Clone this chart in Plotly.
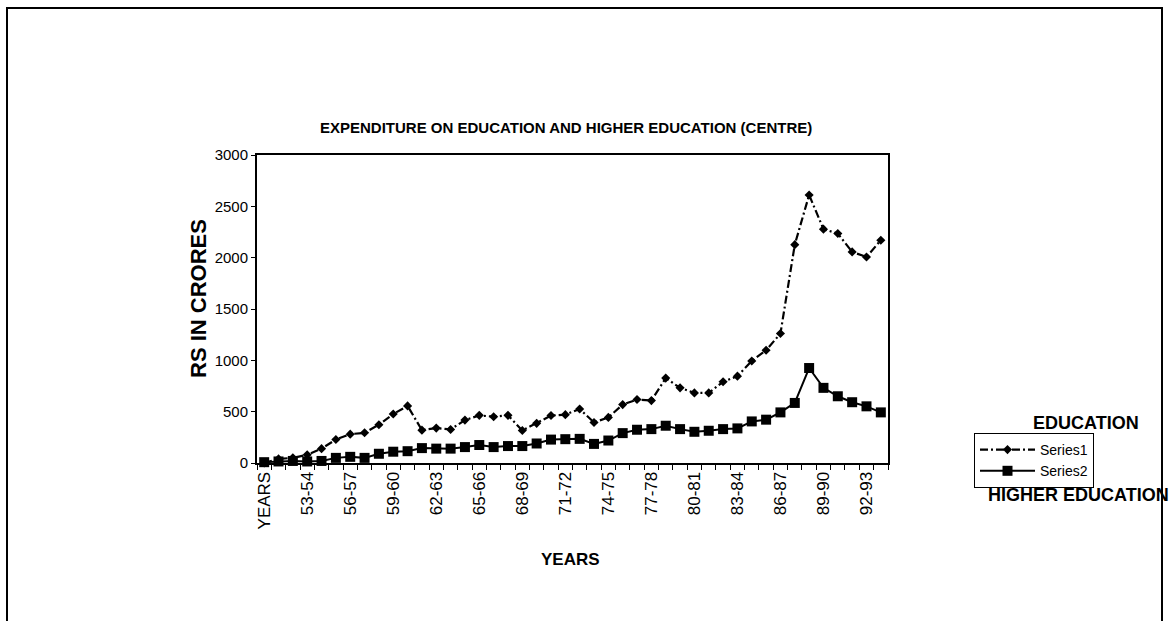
import plotly.graph_objects as go

years = ["YEARS", "51-52", "52-53", "53-54", "54-55", "55-56", "56-57", "57-58", "58-59",
         "59-60", "60-61", "61-62", "62-63", "63-64", "64-65", "65-66", "66-67", "67-68",
         "68-69", "69-70", "70-71", "71-72", "72-73", "73-74", "74-75", "75-76", "76-77",
         "77-78", "78-79", "79-80", "80-81", "81-82", "82-83", "83-84", "84-85", "85-86",
         "86-87", "87-88", "88-89", "89-90", "90-91", "91-92", "92-93", "93-94"]

series1 = [0, 40, 50, 80, 140, 229, 281, 294, 373, 477, 556, 320, 340, 327, 418, 464,
           451, 464, 317, 386, 462, 471, 526, 395, 444, 569, 618, 608, 827, 732, 683,
           683, 791, 846, 994, 1098, 1261, 2127, 2611, 2278, 2235, 2056, 2007, 2170]

series2 = [8, 15, 20, 15, 20, 50, 60, 50, 90, 110, 115, 145, 140, 140, 155, 175,
           155, 165, 165, 190, 228, 232, 235, 186, 219, 291, 324, 330, 363, 330, 304,
           314, 330, 337, 405, 422, 493, 585, 925, 732, 650, 592, 552, 493]

tick_labels = ["YEARS", "53-54", "56-57", "59-60", "62-63", "65-66", "68-69", "71-72",
               "74-75", "77-78", "80-81", "83-84", "86-87", "89-90", "92-93"]

y_ticks = [0, 500, 1000, 1500, 2000, 2500, 3000]

FONT = "Liberation Sans, Arial, sans-serif"

fig = go.Figure()
fig.add_trace(go.Scatter(
    x=years, y=series1, name="Series1", mode="lines+markers",
    line=dict(color="black", width=2.2, dash="8px,3px,2px,3px"),
    marker=dict(symbol="diamond", size=7, color="black"),
    cliponaxis=False,
))
fig.add_trace(go.Scatter(
    x=years, y=series2, name="Series2", mode="lines+markers",
    line=dict(color="black", width=2),
    marker=dict(symbol="square", size=10, color="black"),
    cliponaxis=False,
))

L, R, T, B = 257, 888, 155, 463
W, H = 1174, 621


def px(x):
    return (x - L) / (R - L)


def py(y):
    return (B - y) / (B - T)


fig.update_layout(
    width=W, height=H,
    margin=dict(l=L, r=W - R, t=T, b=H - B, pad=0),
    paper_bgcolor="white", plot_bgcolor="white",
    font=dict(family=FONT, color="black"),
    showlegend=True,
    legend=dict(
        x=px(974), y=py(433), xanchor="left", yanchor="top",
        bordercolor="black", borderwidth=1, bgcolor="white",
        font=dict(size=14, family=FONT, color="black"),
        itemwidth=55, tracegroupgap=0,
    ),
)

fig.update_xaxes(
    type="category",
    range=[-0.5, len(years) - 0.5],
    tickmode="array",
    tickvals=years,
    ticktext=[y if y in tick_labels else "" for y in years],
    tickangle=-90,
    tickson="boundaries",
    ticks="outside", ticklen=5, tickwidth=1, tickcolor="black",
    tickfont=dict(size=17, family=FONT, color="black"),
    showline=True, linecolor="black", linewidth=2, mirror=True,
    showgrid=False, zeroline=False,
)
fig.update_yaxes(
    range=[0, 3000],
    tickmode="array", tickvals=y_ticks,
    ticks="outside", ticklen=4, tickwidth=1, tickcolor="black",
    tickfont=dict(size=15, family=FONT, color="black"),
    showline=True, linecolor="black", linewidth=2, mirror=True,
    showgrid=False, zeroline=False,
)

annotations = [
    dict(text="<b>EXPENDITURE ON EDUCATION AND HIGHER EDUCATION (CENTRE)</b>",
         x=px(566), y=py(127), font=dict(size=15, family=FONT, color="black")),
    dict(text="<b>RS IN CRORES</b>", x=px(198), y=py(299), textangle=-90,
         font=dict(size=22, family=FONT, color="black")),
    dict(text="<b>YEARS</b>", x=px(570), y=py(559),
         font=dict(size=17, family=FONT, color="black")),
    dict(text="<b>EDUCATION</b>", x=px(1031), y=py(423), xanchor="left",
         font=dict(size=18, family=FONT, color="black")),
    dict(text="<b>HIGHER EDUCATION</b>", x=px(986), y=py(495), xanchor="left",
         font=dict(size=18, family=FONT, color="black")),
]
for a in annotations:
    a.setdefault("xanchor", "center")
    a.update(xref="paper", yref="paper", yanchor="middle", showarrow=False)
    fig.add_annotation(**a)

# outer frame of the scanned chart
fig.add_shape(type="rect", xref="paper", yref="paper",
              x0=px(7), x1=px(1162), y0=py(640), y1=py(8),
              line=dict(color="black", width=2), layer="below")

fig.write_html("out.html")
